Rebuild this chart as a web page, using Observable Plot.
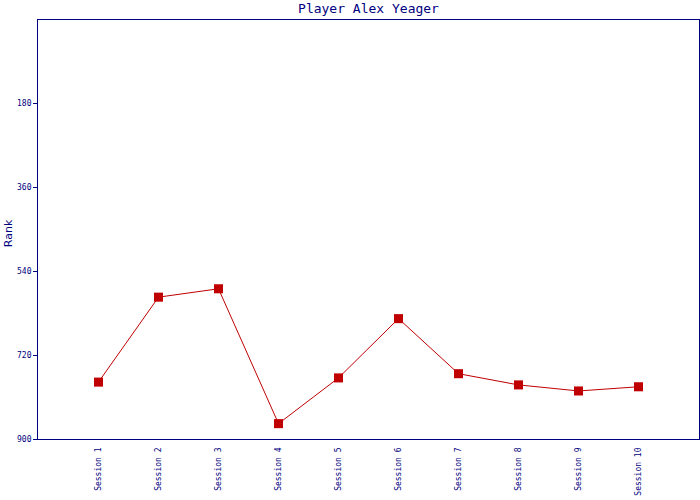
<!DOCTYPE html>
<html>
<head>
<meta charset="utf-8">
<script src="https://cdn.jsdelivr.net/npm/d3@7"></script>
<script src="https://cdn.jsdelivr.net/npm/@observablehq/plot@0.6"></script>
<style>
  html, body { margin: 0; padding: 0; background: #fff; }
  #chart svg { display: block; }
</style>
</head>
<body>
<div id="chart"></div>
<script>
const title = "Player Alex Yeager";
const yLabel = "Rank";
const sessions = ["Session 1", "Session 2", "Session 3", "Session 4", "Session 5",
                  "Session 6", "Session 7", "Session 8", "Session 9", "Session 10"];
const ranks = [777, 595, 577, 866, 768, 641, 759, 783, 796, 787];
const yTicks = [180, 360, 540, 720, 900];

const data = sessions.map((s, i) => ({session: s, rank: ranks[i]}));
const navy = "#000080";
const red = "#c00000";

const chart = Plot.plot({
  width: 700,
  height: 500,
  marginTop: 19,
  marginLeft: 37,
  marginRight: 1,
  marginBottom: 61,
  style: {background: "#fff", color: navy, fontFamily: "DejaVu Sans Mono", fontSize: "8px"},
  x: {type: "point", domain: sessions, padding: 1},
  y: {domain: [0, 900], reverse: true, nice: false},
  marks: [
    Plot.frame({stroke: navy, strokeWidth: 1}),
    Plot.axisY({ticks: yTicks, tickSize: 4, tickPadding: 2, label: null, stroke: navy, fill: navy,
                fontFamily: "DejaVu Sans Mono", fontSize: 8}),
    Plot.axisX({tickSize: 0, tickRotate: -90, tickPadding: 8, label: null, fill: navy,
                fontFamily: "DejaVu Sans Mono", fontSize: 8}),
    Plot.line(data, {x: "session", y: "rank", stroke: red, strokeWidth: 1}),
    Plot.dot(data, {x: "session", y: "rank", symbol: "square", r: 5.1, fill: red, stroke: "none"}),
    Plot.text([title], {frameAnchor: "top", lineAnchor: "middle", dy: -11, fill: navy, fontSize: 13,
                        fontFamily: "DejaVu Sans Mono"}),
    Plot.text([yLabel], {frameAnchor: "left", textAnchor: "middle", lineAnchor: "middle", dx: -29, dy: 4,
                         rotate: -90, fill: navy, fontSize: 11, fontFamily: "DejaVu Sans"})
  ]
});
document.getElementById("chart").appendChild(chart);
</script>
</body>
</html>
